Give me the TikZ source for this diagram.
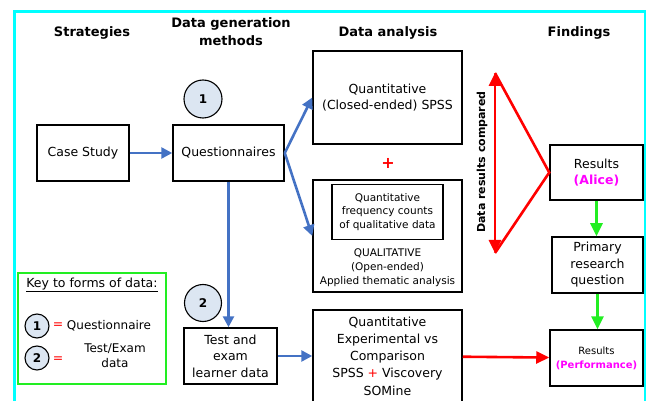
\documentclass[tikz,border=0pt]{standalone}
\usepackage{fontspec}
\setmainfont{DejaVu Sans}
\usetikzlibrary{arrows.meta}

\definecolor{arrowblue}{HTML}{4472C4}
\definecolor{numfill}{HTML}{DCE6F2}
\definecolor{keygreen}{HTML}{22EE22}
\definecolor{framecyan}{HTML}{00FFFF}
\definecolor{pink}{HTML}{FF00FF}

\tikzset{
  box/.style={draw, line width=1.5pt, align=center, inner sep=1pt, font=\fontsize{12.5}{16.5}\selectfont},
  smallbox/.style={box, font=\fontsize{10.5}{13.5}\selectfont},
  num/.style={draw, circle, line width=1.1pt, fill=numfill, minimum size=#1, inner sep=0pt, font=\bfseries\fontsize{12}{12}\selectfont},
  head/.style={align=center, font=\bfseries\fontsize{13}{18}\selectfont},
  bluearrow/.style={arrowblue, line width=2.6pt, -{Triangle[length=11pt,width=11pt]}},
  redarrow/.style={red, line width=2.6pt, -{Triangle[length=13pt,width=12pt]}},
  greenarrow/.style={keygreen, line width=2.6pt, -{Triangle[length=13pt,width=12pt]}}
}

\begin{document}
\begin{tikzpicture}[x=1pt,y=-1pt]
\useasboundingbox (0,0) rectangle (646,401);
%\draw[step=50pt,gray,very thin] (0,0) grid (646,401); %background grid

% outer frame
\draw[framecyan, line width=3pt] (14,420)--(14,12)--(645,12)--(645,420);

% column headings
\node[head] (hstrat) at (92,33) {Strategies};
\node[head] (hgen)   at (231,32) {Data generation\\methods};
\node[head] (hana)   at (388,33) {Data analysis};
\node[head] (hfind)  at (579,33) {Findings};

% strategies and data generation
\node[box, minimum width=92pt, minimum height=56pt] (cs) at (83,153) {Case Study};
\node[box, minimum width=111pt, minimum height=56pt] (qn) at (228.5,153) {Questionnaires};
\node[num=38pt] (n1) at (203,99) {1};
\node[box, minimum width=93pt, minimum height=56pt] (te) at (230.5,356) {Test and\\exam\\learner data};
\node[num=37pt] (n2) at (203,303) {2};

% data analysis
\node[box, minimum width=149pt, minimum height=93pt] (qs) at (387.5,97.5) {Quantitative\\(Closed-ended) SPSS};
\node[text=red, font=\bfseries\fontsize{16}{16}\selectfont] (plus) at (388,163) {+};
\node[box, minimum width=149pt, minimum height=112pt] (ql) at (387.5,236) {};
\node[smallbox, line width=1.3pt, minimum width=111pt, minimum height=55pt] (iq) at (387.5,212) {Quantitative\\frequency counts\\of qualitative data};
\node[align=center, font=\fontsize{10.5}{14}\selectfont] (qt) at (387.5,268) {QUALITATIVE\\(Open-ended)\\Applied thematic analysis};
\node[box, minimum width=149pt, minimum height=92pt, font=\fontsize{12.5}{17.3}\selectfont] (qe) at (387.5,356) {Quantitative\\Experimental vs\\Comparison\\SPSS {\color{red}+} Viscovery\\SOMine};

% findings
\node[box, minimum width=93pt, minimum height=55pt] (ra) at (596.5,172.5) {Results\\{\color{pink}\bfseries (Alice)}};
\node[box, minimum width=91pt, minimum height=56pt] (pr) at (597.5,265) {Primary\\research\\question};
\node[box, minimum width=93pt, minimum height=56pt, font=\fontsize{10}{14}\selectfont] (rp) at (596.5,358) {Results\\{\color{pink}\bfseries (Performance)}};

% comparison triangle
\coordinate (ctop) at (495,73);
\coordinate (cbot) at (495,253);
\draw[red, line width=2.6pt, {Triangle[length=13pt,width=12pt]}-{Triangle[length=13pt,width=12pt]}] (ctop) -- (cbot);
\draw[red, line width=2.6pt] (ctop) -- (ra.west) -- (cbot);
\node[rotate=90, font=\bfseries\fontsize{11}{12}\selectfont] (cmp) at (482,162) {Data results compared};

% connectors
\draw[bluearrow] (cs) -- (qn);
\draw[bluearrow] (qn.east) -- (qs.west);
\draw[bluearrow] (qn.east) -- (ql.west);
\draw[bluearrow] (qn.south) -- (te.north -| qn.south);
\draw[bluearrow] (te) -- (qe);
\draw[redarrow] (qe) -- (rp);
\draw[greenarrow] (ra) -- (ra |- pr.north);
\draw[greenarrow] (pr) -- (pr |- rp.north);

% key
\draw[keygreen, line width=2.6pt] (18,273) rectangle (166,384);
\node[font=\fontsize{12.5}{14}\selectfont] (keyt) at (92,285) {\underline{Key to forms of data:}};
\node[num=24pt] (k1) at (37,326) {1};
\node[num=24pt] (k2) at (37,358) {2};
\node[text=red, font=\fontsize{12.5}{14}\selectfont] (e1) at (58,326) {=};
\node[font=\fontsize{12}{14}\selectfont] (k1t) at (109,326) {Questionnaire};
\node[text=red, font=\fontsize{12.5}{14}\selectfont] (e2) at (58,360) {=};
\node[align=center, font=\fontsize{12}{15}\selectfont] (k2t) at (115,356) {Test/Exam\\data};

\end{tikzpicture}
\end{document}
